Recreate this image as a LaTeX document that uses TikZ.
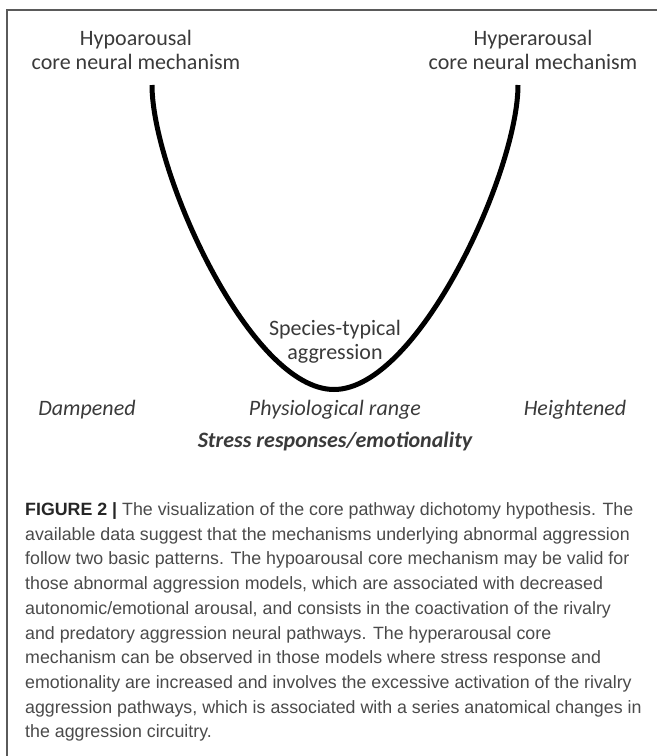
\documentclass[tikz,border=0pt]{standalone}
\usepackage{fontspec}
\setmainfont{Liberation Sans}
\newfontfamily\diagfont{Carlito}
\definecolor{txtgray}{HTML}{3A3A3A}
\definecolor{capgray}{HTML}{4A4A4A}
\definecolor{framegray}{HTML}{5A5A5A}
\begin{document}
\begin{tikzpicture}[x=1pt,y=-1pt,
  lbl/.style={anchor=base,inner sep=0pt,font=\diagfont\fontsize{22}{23.5}\selectfont,text=txtgray,align=center},
  ilbl/.style={lbl,font=\diagfont\itshape\fontsize{22}{23.5}\selectfont},
  capline/.style={anchor=base west,inner sep=0pt,font=\fontsize{17.8}{24.7}\selectfont,text=capgray}]
\useasboundingbox (0,0) rectangle (657,756);
% frame (top and left edges)
\draw[framegray,line width=1.5pt] (7,756) -- (7,10) -- (657,10);
% U curve
\coordinate (ltop) at (152,85);
\coordinate (bot) at (334,389.5);
\coordinate (rtop) at (518,85);
\draw[line width=5pt] (ltop) .. controls (152,172) and (250,389.5) .. (bot)
  .. controls (418,389.5) and (518,172) .. (rtop);
% labels
\node[lbl] (hypo1) at (136,45) {Hypoarousal};
\node[lbl] (hypo2) at (136,69) {core neural mechanism};
\node[lbl] (hyper1) at (533,45) {Hyperarousal};
\node[lbl] (hyper2) at (533,69) {core neural mechanism};
\node[lbl] (sp1) at (335,335) {Species-typical};
\node[lbl] (sp2) at (335,359) {aggression};
\node[ilbl] (damp) at (87,415) {Dampened};
\node[ilbl] (phys) at (335,415) {Physiological range};
\node[ilbl] (high) at (575,415) {Heightened};
\node[lbl,font=\diagfont\bfseries\itshape\fontsize{22}{23.5}\selectfont] (stress) at (335,447) {Stress responses/emotionality};
% caption
\node[capline] (c1) at (25,515.5) {{\color{black!85}\bfseries FIGURE 2 |} The visualization of the core pathway dichotomy hypothesis. The};
\node[capline] (c2) at (25,540.2) {available data suggest that the mechanisms underlying abnormal aggression};
\node[capline] (c3) at (25,564.9) {follow two basic patterns. The hypoarousal core mechanism may be valid for};
\node[capline] (c4) at (25,589.6) {those abnormal aggression models, which are associated with decreased};
\node[capline] (c5) at (25,614.3) {autonomic/emotional arousal, and consists in the coactivation of the rivalry};
\node[capline] (c6) at (25,639) {and predatory aggression neural pathways. The hyperarousal core};
\node[capline] (c7) at (25,663.7) {mechanism can be observed in those models where stress response and};
\node[capline] (c8) at (25,688.4) {emotionality are increased and involves the excessive activation of the rivalry};
\node[capline] (c9) at (25,713.1) {aggression pathways, which is associated with a series anatomical changes in};
\node[capline] (c10) at (25,737.8) {the aggression circuitry.};
\end{tikzpicture}
\end{document}
